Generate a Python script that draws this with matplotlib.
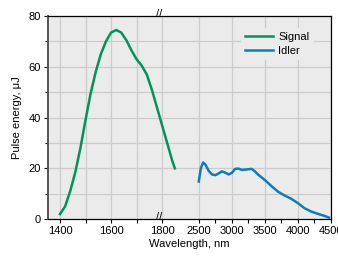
import matplotlib
matplotlib.use("Agg")
import matplotlib.pyplot as plt
import matplotlib.transforms as mtransforms
import numpy as np

plt.rcParams['font.family'] = ['Liberation Sans', 'DejaVu Sans']

# signal branch (nm, uJ)
signal_nm = [1400, 1420, 1440, 1460, 1480, 1500, 1520, 1540, 1560, 1580, 1600,
             1620, 1640, 1660, 1680, 1700, 1720, 1740, 1760, 1780, 1800, 1820,
             1840, 1850]
signal_uj = [2, 5, 11, 18.5, 28, 39, 49.5, 58, 65, 70, 73.5,
             74.5, 73.5, 70.5, 66.5, 63, 60.5, 57, 51, 44, 37, 30,
             23, 20]

# idler branch
idler_nm = [2500, 2530, 2565, 2600, 2650, 2700, 2750, 2800, 2850, 2900, 2950,
            3000, 3050, 3100, 3150, 3200, 3300, 3350, 3400, 3500, 3600, 3700,
            3800, 3900, 4000, 4100, 4200, 4300, 4400, 4470]
idler_uj = [14.8, 20, 22.3, 21.5, 19, 17.6, 17.3, 18, 18.8, 18.3, 17.6,
            18.2, 19.8, 19.9, 19.4, 19.5, 19.8, 18.8, 17.5, 15.4, 13, 10.8,
            9.3, 8, 6.3, 4.3, 3, 2.1, 1.3, 0.6]

xticks = [1400, 1500, 1600, 1700, 1800, 2500, 3000, 3500, 4000, 4500]
xticklabels = ['1400', '', '1600', '', '1800', '2500', '3000', '3500', '4000', '4500']
xminor = [2750, 3250, 3750, 4250]

# broken axis: 1400-1900 and 2330-4500 with different scales
def fwd(x):
    x = np.asarray(x, dtype=float)
    return np.where(x <= 1900, (x - 1400) * 0.255, 127.5 + (x - 2330) * 0.066)

def inv(u):
    u = np.asarray(u, dtype=float)
    return np.where(u <= 127.5, 1400 + u / 0.255, 2330 + (u - 127.5) / 0.066)

fig = plt.figure(figsize=(3.38, 2.59), dpi=100)
ax = fig.add_axes([0.142, 0.154, 0.837, 0.784])
ax.set_xscale('function', functions=(fwd, inv))
ax.set_facecolor('#ebebeb')

ax.plot(signal_nm, signal_uj, color='#00945a', lw=1.8, label='Signal')
ax.plot(idler_nm, idler_uj, color='#0b7dbd', lw=1.8, label='Idler')

ax.set_xlim(1353, 4500)
ax.set_ylim(0, 80)
ax.set_xticks(xticks)
ax.set_xticklabels(xticklabels)
ax.set_xticks(xminor, minor=True)
ax.set_yticks([0, 20, 40, 60, 80])
ax.set_yticks([10, 30, 50, 70], minor=True)

ax.grid(True, which='major', color='#cccccc', lw=0.9)
ax.grid(True, which='minor', axis='y', color='#cccccc', lw=0.9)
ax.set_axisbelow(True)

ax.tick_params(axis='both', which='major', labelsize=8, length=3, width=0.8, pad=2)
ax.tick_params(axis='x', which='minor', length=3, width=0.8)
ax.tick_params(axis='y', which='minor', length=2, width=0.8)

for s in ['top', 'right', 'bottom']:
    ax.spines[s].set_linewidth(0.9)
    ax.spines[s].set_color('black')
ax.spines['left'].set_color('#555555')
ax.spines['left'].set_linewidth(1.4)

ax.set_xlabel('Wavelength, nm', fontsize=8, labelpad=2)
ax.set_ylabel('Pulse energy, μJ', fontsize=8, labelpad=5)

# break marks
trans = mtransforms.blended_transform_factory(ax.transData, ax.transAxes)
for yy in [0, 1]:
    ax.text(1905, yy + 0.012, '//', transform=trans, fontsize=8, ha='center',
            va='center', clip_on=False)

leg = ax.legend(loc='upper right', bbox_to_anchor=(0.96, 0.97), fontsize=8,
                frameon=True, fancybox=False, edgecolor='none', facecolor='#ebebeb',
                framealpha=1, handlelength=2.5, handletextpad=0.5, labelspacing=0.35,
                borderpad=0.4)

fig.savefig('out.png', dpi=100)
